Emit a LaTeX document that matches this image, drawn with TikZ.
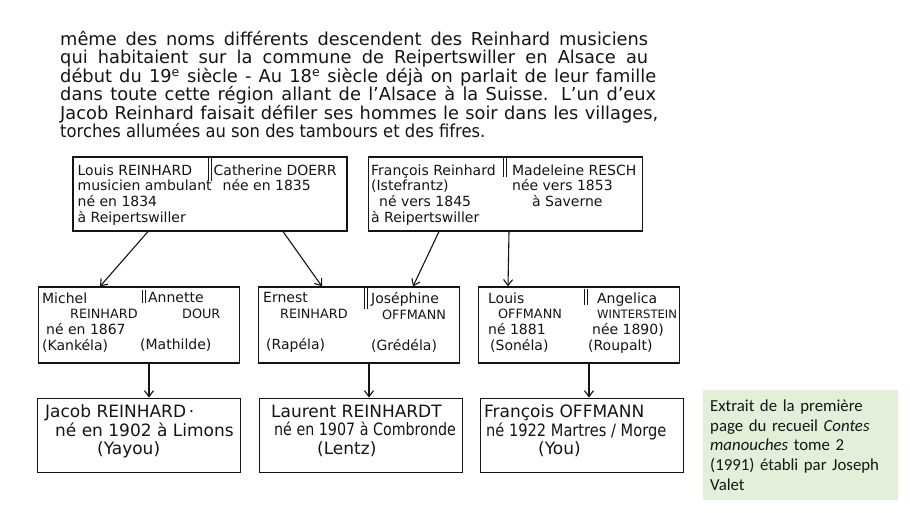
\documentclass[tikz,border=0pt]{standalone}
\usepackage{fontspec}
\setmainfont{DejaVu Sans}
\newfontfamily\notefont{Carlito}
\usepackage{graphicx}
\usepackage{xcolor}
\definecolor{encre}{HTML}{151515}
\definecolor{vertpale}{HTML}{E2EFD9}
\usetikzlibrary{arrows.meta,positioning}

\newcommand{\ligne}[2][588pt]{\makebox[#1][s]{#2}}
\newcommand{\maj}[2][12.8]{{\fontsize{#1}{#1}\selectfont #2}}

\begin{document}
\begin{tikzpicture}[x=1pt,y=1pt,
  font=\fontsize{14}{15.6}\selectfont,
  couple/.style={draw=encre,line width=1.1pt,minimum width=274pt,minimum height=74pt,inner sep=0pt},
  enfant/.style={couple,minimum width=201pt,minimum height=76pt},
  fils/.style={couple,minimum width=203pt,minimum height=74pt},
  texte/.style={anchor=north west,align=left,inner sep=0pt,text=encre},
  fleche/.style={draw=encre,line width=1.1pt,-{Straight Barb[length=6pt,width=9pt]}},
  trait/.style={draw=encre,line width=0.9pt}
]
  \path[fill=white,use as bounding box] (0,0) rectangle (910,512);

  % le texte manuscrit
  \node[texte,font=\fontsize{17.8}{18.5}\selectfont] (recit) at (60,481) {%
    \ligne{même des noms différents descendent des Reinhard musiciens}\\
    \ligne{qui habitaient sur la commune de Reipertswiller en Alsace au}\\
    \ligne[596pt]{début du 19\textsuperscript{e} siècle - Au 18\textsuperscript{e} siècle déjà on parlait de leur famille}\\
    \ligne[596pt]{dans toute cette région allant de l'Alsace à la Suisse. L'un d'eux}\\
    \ligne[598pt]{Jacob Reinhard faisait défiler ses hommes le soir dans les villages,}\\
    \scalebox{0.92}[1]{torches allumées au son des tambours et des fifres.}};

  % premiere generation
  \node[couple] (louis) at (210,318) {};
  \node[couple] (francois) at (505.5,318) {};
  \draw[trait] ([xshift=-2pt]louis.north) -- ++(0,-25);
  \draw[trait] ([xshift=1pt]louis.north) -- ++(0,-25);
  \draw[trait] ([xshift=-2.5pt]francois.north) -- ++(0,-21);
  \draw[trait] ([xshift=0.5pt]francois.north) -- ++(0,-21);
  \node[texte] (louisG) at ([shift={(5,-8)}]louis.north west)
    {Louis REINHARD\\musicien ambulant\\né en 1834\\à Reipertswiller};
  \node[texte] (louisD) at ([shift={(141,-8)}]louis.north west)
    {Catherine DOERR\\\hspace*{9pt}née en 1835};
  \node[texte] (francoisG) at ([shift={(3,-8)}]francois.north west)
    {François Reinhard\\(Istefrantz)\\\hspace*{8pt}né vers 1845\\à Reipertswiller};
  \node[texte] (francoisD) at ([shift={(144,-8)}]francois.north west)
    {Madeleine RESCH\\née vers 1853\\\hspace*{20pt}à Saverne};

  % deuxieme generation
  \node[enfant] (michel) at (139,187) {};
  \node[enfant] (ernest) at (359,187) {};
  \node[enfant] (louisoff) at (579,187) {};
  \draw[trait] ([xshift=3pt,yshift=-4pt]michel.north) -- ++(0,-13);
  \draw[trait] ([xshift=6pt,yshift=-4pt]michel.north) -- ++(0,-13);
  \draw[trait] ([xshift=5pt,yshift=-2pt]ernest.north) -- ++(0,-21);
  \draw[trait] ([xshift=8pt,yshift=-2pt]ernest.north) -- ++(0,-21);
  \draw[trait] ([xshift=5pt,yshift=-3pt]louisoff.north) -- ++(0,-16);
  \draw[trait] ([xshift=8pt,yshift=-3pt]louisoff.north) -- ++(0,-16);
  \node[texte] (michelG) at ([shift={(4,-6)}]michel.north west)
    {Michel\\\hspace*{28pt}\maj{REINHARD}\\\hspace*{4pt}né en 1867\\(Kankéla)};
  \node[texte] (michelD) at ([shift={(102,-6)}]michel.north west)
    {\hspace*{8pt}Annette\\\hspace*{42pt}\maj{DOUR}\\\mbox{}\\(Mathilde)};
  \node[texte] (ernestG) at ([shift={(5,-6)}]ernest.north west)
    {Ernest\\\hspace*{17pt}\maj{REINHARD}\\\mbox{}\\\hspace*{3pt}(Rapéla)};
  \node[texte] (ernestD) at ([shift={(113,-6)}]ernest.north west)
    {Joséphine\\\hspace*{11pt}\maj{OFFMANN}\\\mbox{}\\(Grédéla)};
  \node[texte] (louisoffG) at ([shift={(10,-6)}]louisoff.north west)
    {Louis\\\hspace*{10pt}\maj{OFFMANN}\\né 1881\\\hspace*{2pt}(Sonéla)};
  \node[texte] (louisoffD) at ([shift={(110,-6)}]louisoff.north west)
    {\hspace*{9pt}Angelica\\\hspace*{9pt}\maj[11.6]{WINTERSTEIN}\\\hspace*{4pt}née 1890)\\(Roupalt)};

  % troisieme generation
  \node[fils,below=34pt of michel] (jacob) {};
  \node[fils,below=34pt of ernest,xshift=2pt] (laurent) {};
  \node[fils,below=34pt of louisoff,xshift=3pt] (francoisoff) {};
  \node[texte,font=\fontsize{17}{18.5}\selectfont] (jacobT) at ([shift={(8,-7)}]jacob.north west)
    {Jacob REINHARD\,·\\\hspace*{10pt}né en 1902 à Limons\\\hspace*{52pt}(Yayou)};
  \node[texte,font=\fontsize{17}{18.5}\selectfont] (laurentT) at ([shift={(12,-7)}]laurent.north west)
    {Laurent REINHARDT\\\hspace*{3pt}\scalebox{0.84}[1]{né en 1907 à Combronde}\\\hspace*{46pt}(Lentz)};
  \node[texte,font=\fontsize{17}{18.5}\selectfont] (francoisoffT) at ([shift={(4,-7)}]francoisoff.north west)
    {François OFFMANN\\\hspace*{2pt}\scalebox{0.86}[1]{né 1922 Martres / Morge}\\\hspace*{54pt}(You)};

  % filiations
  \draw[fleche] ([xshift=-62pt]louis.south) -- ([xshift=-39pt]michel.north);
  \draw[fleche] ([xshift=73pt]louis.south) -- ([xshift=-37pt]ernest.north);
  \draw[fleche] ([xshift=-66.5pt]francois.south) -- ([xshift=54pt]ernest.north);
  \draw[fleche] ([xshift=3.5pt]francois.south) -- ([xshift=-71pt]louisoff.north);
  \draw[fleche] ([xshift=10pt]michel.south) -- ([xshift=10pt]jacob.north);
  \draw[fleche] ([xshift=10pt]ernest.south) -- ([xshift=8pt]laurent.north);
  \draw[fleche] ([xshift=10pt]louisoff.south) -- ([xshift=7pt]francoisoff.north);

  % la note
  \node[anchor=north west,fill=vertpale,minimum width=195pt,minimum height=110pt,
        text width=181pt,inner xsep=7pt,align=left,text=encre,
        font=\notefont\fontsize{16.8}{19.7}\selectfont] (extrait) at (703,122)
    {Extrait de la première\\page du recueil \textit{Contes}\\\textit{manouches} tome 2\\(1991) établi par Joseph\\Valet};
\end{tikzpicture}
\end{document}
